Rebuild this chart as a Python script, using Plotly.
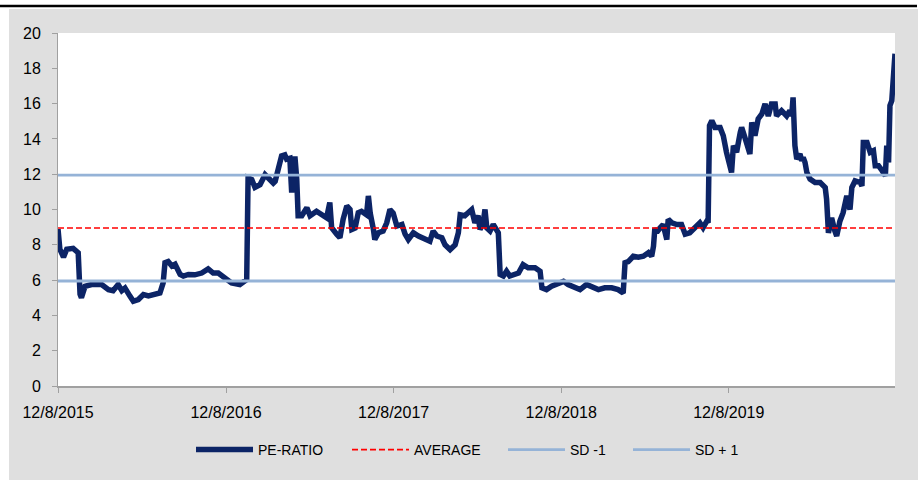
import pandas as pd
import plotly.graph_objects as go

START_DATE = "2015-12-08"
END_DAY = 1823

# PE-ratio series: days since 12/8/2015 and value
PE_DAYS = [0, 4, 12, 19, 33, 44, 48, 51, 59, 73, 95, 110, 120, 131, 139, 146, 157, 164, 175, 186,
           197, 211, 222, 229, 233, 240, 248, 255, 266, 273, 284, 298, 313, 327, 338, 349, 364, 378,
           396, 404, 411, 414, 422, 429, 440, 451, 462, 469, 473, 480, 487, 494, 498, 505, 509, 516,
           520, 523, 531, 542, 549, 563, 574, 585, 592, 596, 607, 614, 621, 629, 636, 640, 647, 654,
           661, 672, 676, 680, 687, 690, 698, 708, 716, 723, 730, 738, 749, 756, 763, 774, 785, 799,
           810, 817, 825, 836, 843, 854, 865, 872, 876, 886, 901, 908, 915, 919, 926, 930, 934, 941,
           948, 959, 963, 970, 977, 984, 995, 1003, 1013, 1024, 1039, 1050, 1054, 1064, 1075, 1086,
           1101, 1111, 1122, 1137, 1151, 1162, 1177, 1191, 1206, 1220, 1231, 1235, 1242, 1253, 1264,
           1275, 1286, 1293, 1297, 1300, 1304, 1311, 1318, 1326, 1329, 1337, 1348, 1358, 1366, 1376,
           1387, 1398, 1405, 1413, 1416, 1419, 1424, 1431, 1442, 1449, 1456, 1464, 1467, 1471, 1478,
           1486, 1489, 1496, 1503, 1507, 1511, 1518, 1525, 1533, 1540, 1547, 1554, 1562, 1565, 1576,
           1587, 1594, 1598, 1601, 1605, 1609, 1616, 1620, 1623, 1627, 1631, 1638, 1649, 1660, 1671,
           1674, 1678, 1685, 1692, 1696, 1703, 1710, 1718, 1725, 1729, 1736, 1747, 1751, 1754, 1762,
           1769, 1776, 1780, 1787, 1795, 1802, 1805, 1809, 1812, 1816, 1823]
PE_VALUES = [8.9, 7.76, 7.3, 7.75, 7.8, 7.55, 5.2, 5.0, 5.65, 5.75, 5.75, 5.46, 5.4, 5.75, 5.4, 5.55,
             5.08, 4.8, 4.9, 5.18, 5.1, 5.2, 5.27, 5.84, 6.98, 7.05, 6.8, 6.9, 6.32, 6.23, 6.32, 6.3,
             6.4, 6.63, 6.4, 6.4, 6.12, 5.84, 5.75, 5.93, 6.03, 11.8, 11.7, 11.25, 11.4, 11.97, 11.7,
             11.5, 11.6, 12.38, 13.04, 13.1, 12.85, 12.9, 10.96, 13.0, 11.7, 9.65, 9.65, 10.1, 9.65,
             9.9, 9.7, 9.53, 10.4, 8.97, 8.6, 8.4, 9.44, 10.2, 10.0, 8.87, 8.95, 9.82, 9.9, 9.7, 10.77,
             9.8, 8.87, 8.3, 8.68, 8.78, 9.25, 10.0, 9.8, 9.06, 9.15, 8.6, 8.3, 8.68, 8.5, 8.3, 8.2,
             8.78, 8.5, 8.4, 8.0, 7.72, 8.0, 8.68, 9.7, 9.65, 10.0, 9.25, 9.65, 8.87, 9.25, 10.0, 8.95,
             8.78, 9.15, 8.68, 6.32, 6.23, 6.5, 6.23, 6.32, 6.4, 6.88, 6.7, 6.7, 6.5, 5.56, 5.46, 5.65,
             5.75, 5.93, 5.75, 5.65, 5.46, 5.75, 5.65, 5.46, 5.56, 5.56, 5.46, 5.27, 6.98, 7.05, 7.35,
             7.3, 7.35, 7.55, 7.35, 7.92, 8.95, 8.7, 8.95, 9.15, 8.3, 9.44, 9.25, 9.15, 9.15, 8.6,
             8.68, 8.95, 9.25, 8.97, 9.34, 9.25, 14.75, 15.03, 14.65, 14.65, 14.18, 13.24, 12.29,
             12.1, 13.62, 13.24, 14.37, 14.65, 14.09, 13.62, 13.14, 14.94, 14.18, 15.13, 15.41, 15.98,
             15.3, 15.98, 15.98, 15.3, 15.6, 15.3, 15.6, 15.3, 16.35, 13.62, 12.86, 13.14, 12.76,
             12.95, 12.67, 12.1, 11.72, 11.53, 11.53, 11.25, 10.58, 8.68, 9.53, 8.78, 8.5, 9.34, 9.82,
             10.77, 10.0, 11.25, 11.62, 11.53, 11.34, 13.8, 13.8, 13.24, 13.33, 12.48, 12.48, 12.2,
             11.91, 13.62, 12.67, 15.89, 16.17, 18.83]

AVERAGE = 8.95
SD_MINUS_1 = 5.95
SD_PLUS_1 = 11.95

TICK_DATES = ["2015-12-08", "2016-12-08", "2017-12-08", "2018-12-08", "2019-12-08"]
TICK_LABELS = ["12/8/2015", "12/8/2016", "12/8/2017", "12/8/2018", "12/8/2019"]
Y_TICKS = [0, 2, 4, 6, 8, 10, 12, 14, 16, 18, 20]

start = pd.Timestamp(START_DATE)
dates = start + pd.to_timedelta(PE_DAYS, unit="D")
end = start + pd.Timedelta(days=END_DAY)
span = [start, end]

FONT = "Liberation Sans, Arial, sans-serif"

W, H = 924, 480
L, R, T, B = 58, 29, 33, 94
pw, ph = W - L - R, H - T - B


def px(xp):
    return (xp - L) / pw


def py(yp):
    return (H - B - yp) / ph


fig = go.Figure()
fig.add_trace(go.Scatter(x=dates, y=PE_VALUES, mode="lines", name="PE-RATIO", legend="legend",
                         line=dict(color="#0c2466", width=5.5)))
fig.add_trace(go.Scatter(x=span, y=[AVERAGE, AVERAGE], mode="lines", name="AVERAGE",
                         legend="legend2",
                         line=dict(color="#ff0000", width=1.6, dash="6px,3px")))
fig.add_trace(go.Scatter(x=span, y=[SD_MINUS_1, SD_MINUS_1], mode="lines", name="SD -1",
                         legend="legend3", line=dict(color="#95b3d7", width=2.8)))
fig.add_trace(go.Scatter(x=span, y=[SD_PLUS_1, SD_PLUS_1], mode="lines", name="SD + 1",
                         legend="legend4", line=dict(color="#95b3d7", width=2.8)))

shapes = [
    # white page strips outside the gray panel
    dict(type="rect", xref="paper", yref="paper", x0=px(-5), x1=px(9), y0=py(490), y1=py(-5),
         fillcolor="white", line_width=0, layer="above"),
    dict(type="rect", xref="paper", yref="paper", x0=px(918), x1=px(930), y0=py(490), y1=py(-5),
         fillcolor="white", line_width=0, layer="above"),
    dict(type="rect", xref="paper", yref="paper", x0=px(-5), x1=px(930), y0=py(9), y1=py(-5),
         fillcolor="white", line_width=0, layer="above"),
    dict(type="line", xref="paper", yref="paper", x0=px(0), x1=px(917), y0=py(6), y1=py(6),
         line=dict(color="black", width=2.5), layer="above"),
]


def leg(x_left):
    return dict(orientation="h", x=px(x_left - 5), xanchor="left", y=py(450), yanchor="middle",
                font=dict(size=14), bgcolor="rgba(0,0,0,0)", itemwidth=57)


fig.update_layout(
    width=W, height=H,
    margin=dict(l=L, r=R, t=T, b=B, pad=0),
    paper_bgcolor="#dfdfdf",
    plot_bgcolor="white",
    font=dict(family=FONT, size=16, color="black"),
    showlegend=True,
    legend=leg(196), legend2=leg(352), legend3=leg(508), legend4=leg(633),
    shapes=shapes,
    xaxis=dict(type="date", range=span, tickvals=[pd.Timestamp(d) for d in TICK_DATES],
               ticktext=TICK_LABELS, showgrid=False, zeroline=False, showline=True,
               linecolor="#a0a0a0", linewidth=1.5, ticks="outside", ticklen=5,
               tickcolor="#a0a0a0", ticklabelstandoff=6, fixedrange=True),
    yaxis=dict(range=[0, 20], tickvals=Y_TICKS, showgrid=False, zeroline=False, showline=True,
               linecolor="#a0a0a0", linewidth=1, ticks="outside", ticklen=5,
               tickcolor="#a0a0a0", ticklabelstandoff=8, fixedrange=True),
)

fig.write_html("out.html", config={"displayModeBar": False},
               post_script="document.body.style.margin='0px';")
